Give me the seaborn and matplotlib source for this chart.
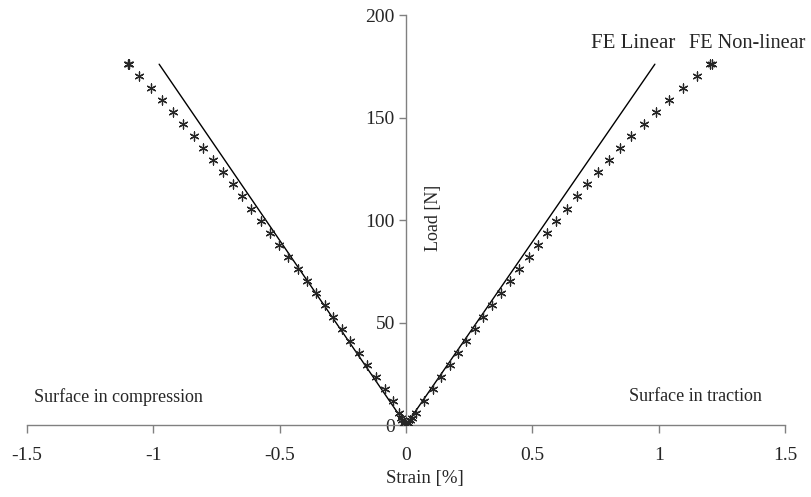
import matplotlib
matplotlib.use("Agg")
import matplotlib.pyplot as plt
import seaborn as sns
import pandas as pd

# ---- data ----
load_nl = [0, 1.2, 2.4, 3.6, 5.87, 11.73, 17.6, 23.47, 29.33, 35.2, 41.07, 46.93, 52.8,
           58.67, 64.53, 70.4, 76.27, 82.13, 88.0, 93.87, 99.73, 105.6, 111.47,
           117.33, 123.2, 129.07, 134.93, 140.8, 146.67, 152.53, 158.4, 164.27,
           170.13, 176.0, 176.0]
strain_traction = [0, 0.008, 0.016, 0.024, 0.040, 0.071, 0.106, 0.140, 0.174, 0.207, 0.239,
                   0.272, 0.306, 0.339, 0.375, 0.413, 0.448, 0.487, 0.524, 0.559,
                   0.595, 0.637, 0.678, 0.718, 0.761, 0.802, 0.847, 0.892, 0.942,
                   0.990, 1.040, 1.095, 1.150, 1.212, 1.205]
strain_compression = [0, -0.007, -0.014, -0.021, -0.028, -0.050, -0.084, -0.119, -0.153, -0.187,
                      -0.222, -0.255, -0.288, -0.321, -0.357, -0.393, -0.429, -0.467,
                      -0.501, -0.539, -0.575, -0.612, -0.649, -0.686, -0.725, -0.764,
                      -0.803, -0.840, -0.881, -0.923, -0.967, -1.010, -1.055, -1.101,
                      -1.096]
load_lin = [0, 176]
strain_lin_traction = [0, 0.985]
strain_lin_compression = [0, -0.977]

x_ticks = [-1.5, -1, -0.5, 0, 0.5, 1, 1.5]
x_ticklabels = ["-1.5", "-1", "-0.5", "0", "0.5", "1", "1.5"]
y_ticks = [0, 50, 100, 150, 200]

sns.set_theme(style="white")
plt.rcParams["font.family"] = ["Liberation Serif", "DejaVu Serif"]

fig = plt.figure(figsize=(8.11, 4.97), dpi=100)
ax = fig.add_axes([27/811, 1 - 425/497, (785 - 27)/811, (425 - 15)/497])

lin = pd.DataFrame({
    "strain": strain_lin_compression + strain_lin_traction,
    "load": load_lin + load_lin,
    "side": ["c"] * 2 + ["t"] * 2,
})
sns.lineplot(data=lin, x="strain", y="load", units="side", estimator=None,
             sort=False, color="black", linewidth=1.0, ax=ax, legend=False)

nl = pd.DataFrame({
    "strain": strain_compression + strain_traction,
    "load": load_nl + load_nl,
})
sns.scatterplot(data=nl, x="strain", y="load", marker=(6, 2, 0), s=42,
                color="#262626", edgecolor="#262626", linewidth=0.9, ax=ax,
                legend=False, zorder=3)

ax.set_xlim(-1.5, 1.5)
ax.set_ylim(0, 200)
ax.set_xticks(x_ticks)
ax.set_xticklabels(x_ticklabels)
ax.set_yticks(y_ticks)

for s in ["top", "right"]:
    ax.spines[s].set_visible(False)
ax.spines["left"].set_position(("data", 0))
for s in ["left", "bottom"]:
    ax.spines[s].set_color("#808080")
    ax.spines[s].set_linewidth(1.0)
ax.tick_params(axis="x", direction="out", length=6, width=1, color="#808080",
               labelsize=14, pad=10, bottom=True)
ax.tick_params(axis="y", direction="out", length=5, width=1, color="#808080",
               labelsize=14, pad=3, left=True)
ax.set_xlabel("Strain [%]", fontsize=13.5)
ax.xaxis.set_label_coords((425 - 27) / 758, -(479 - 425) / 410)
ax.xaxis.label.set_va("center")
ax.set_ylabel("")
ax.text(0.11, 101, "Load [N]", rotation=90, ha="center", va="center", fontsize=13)

ax.text(0.90, 186, "FE Linear", ha="center", va="center", fontsize=15)
ax.text(1.352, 186, "FE Non-linear", ha="center", va="center", fontsize=14.6)
ax.text(-1.14, 13.7, "Surface in compression", ha="center", va="center", fontsize=13)
ax.text(1.144, 13.7, "Surface in traction", ha="center", va="center", fontsize=13)
ax.patch.set_alpha(0)

fig.savefig("out.png", dpi=100)
